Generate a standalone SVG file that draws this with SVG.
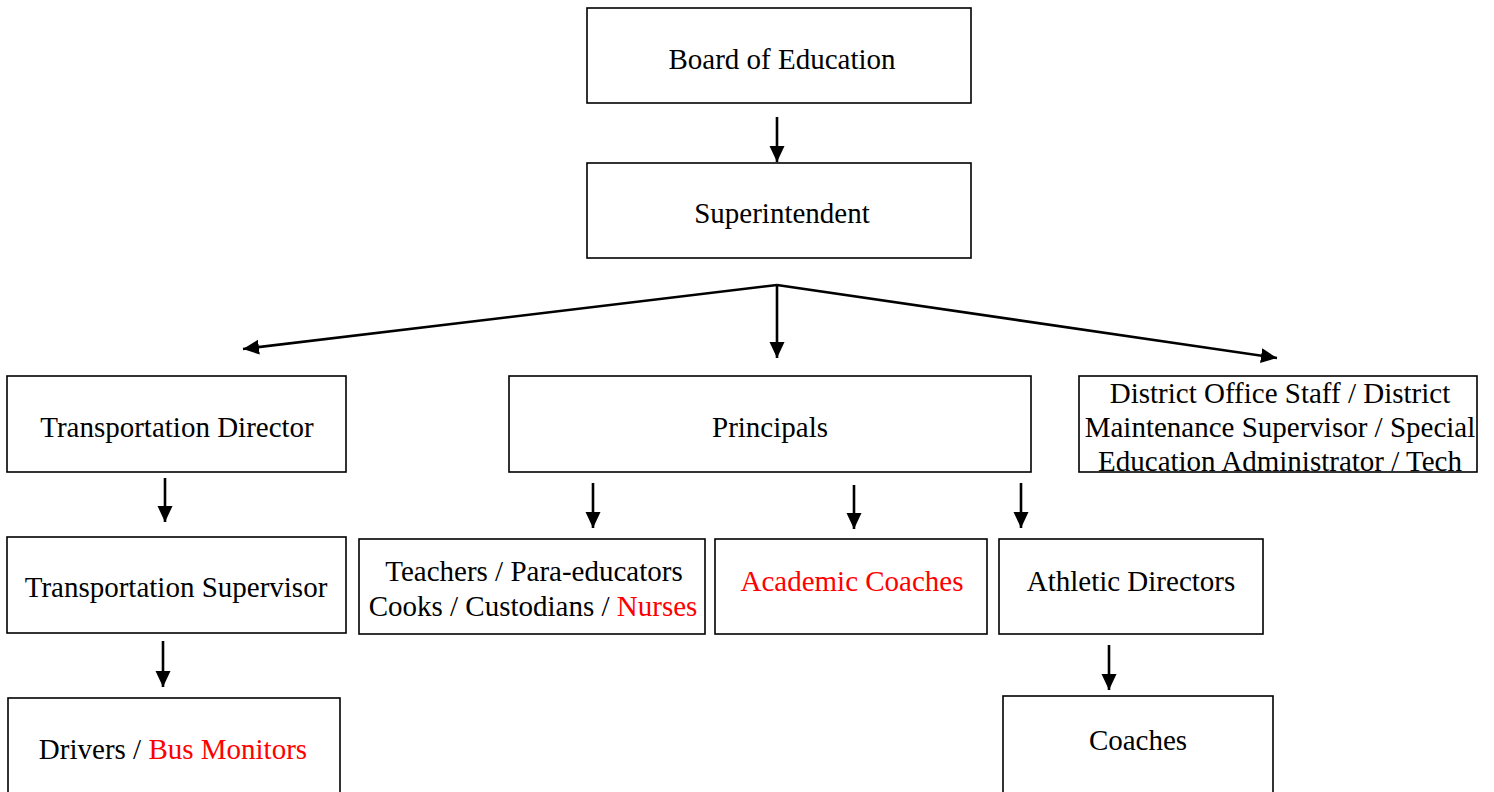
<svg xmlns="http://www.w3.org/2000/svg" width="1494" height="792" viewBox="0 0 1494 792">
<style>
.box{fill:#fff;stroke:#000;stroke-width:1.6}
.t{font-family:"Liberation Serif","Times New Roman",serif;font-size:29px;fill:#000;text-anchor:middle}
.r{fill:#ff0000}
.c{stroke:#000;stroke-width:2.6;fill:none;marker-end:url(#ah)}
</style>
<defs>
<marker id="ah" markerUnits="userSpaceOnUse" markerWidth="18" markerHeight="16" refX="16" refY="7.5" orient="auto">
<path d="M0,0 L16,7.5 L0,15 Z" fill="#000"/>
</marker>
</defs>
<rect width="1494" height="792" fill="#fff"/>
<g id="connectors">
<line class="c" x1="777" y1="117" x2="777" y2="162"/>
<line class="c" x1="777" y1="285" x2="243" y2="349"/>
<line class="c" x1="777" y1="285" x2="777" y2="358"/>
<line class="c" x1="777" y1="285" x2="1277" y2="358"/>
<line class="c" x1="165" y1="478" x2="165" y2="522"/>
<line class="c" x1="163" y1="641" x2="163" y2="687"/>
<line class="c" x1="593" y1="483" x2="593" y2="528"/>
<line class="c" x1="854" y1="485" x2="854" y2="529"/>
<line class="c" x1="1021" y1="483" x2="1021" y2="528"/>
<line class="c" x1="1109" y1="645" x2="1109" y2="690"/>
</g>
<g id="board"><rect class="box" x="587" y="8" width="384" height="95"/><text class="t" x="782" y="69">Board of Education</text></g>
<g id="superintendent"><rect class="box" x="587" y="163" width="384" height="95"/><text class="t" x="782" y="223">Superintendent</text></g>
<g id="transport-director"><rect class="box" x="7" y="376" width="339" height="96"/><text class="t" x="177" y="437">Transportation Director</text></g>
<g id="principals"><rect class="box" x="509" y="376" width="522" height="96"/><text class="t" x="770" y="437">Principals</text></g>
<g id="district"><rect class="box" x="1079" y="376" width="398" height="96"/><text class="t" x="1280" y="403">District Office Staff / District</text><text class="t" x="1280" y="437">Maintenance Supervisor / Special</text><text class="t" x="1280" y="471">Education Administrator / Tech</text></g>
<g id="transport-supervisor"><rect class="box" x="7" y="537" width="339" height="96"/><text class="t" x="176" y="597">Transportation Supervisor</text></g>
<g id="teachers"><rect class="box" x="359" y="539" width="346" height="95"/><text class="t" x="534" y="581">Teachers / Para-educators</text><text class="t" x="533" y="616">Cooks / Custodians / <tspan class="r">Nurses</tspan></text></g>
<g id="academic"><rect class="box" x="715" y="539" width="272" height="95"/><text class="t r" x="852" y="591">Academic Coaches</text></g>
<g id="athletic"><rect class="box" x="999" y="539" width="264" height="95"/><text class="t" x="1131" y="591">Athletic Directors</text></g>
<g id="drivers"><rect class="box" x="8" y="698" width="332" height="100"/><text class="t" x="173" y="759">Drivers / <tspan class="r">Bus Monitors</tspan></text></g>
<g id="coaches"><rect class="box" x="1003" y="696" width="270" height="102"/><text class="t" x="1138" y="750">Coaches</text></g>
</svg>
